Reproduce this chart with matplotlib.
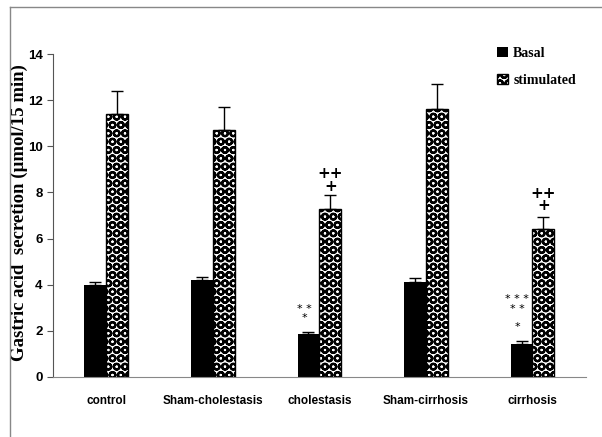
import matplotlib
matplotlib.use("Agg")
import matplotlib.pyplot as plt
import numpy as np
from matplotlib.lines import Line2D

categories = ["control", "Sham-cholestasis", "cholestasis", "Sham-cirrhosis", "cirrhosis"]
basal = [4.0, 4.2, 1.85, 4.1, 1.45]
basal_err = [0.12, 0.15, 0.08, 0.2, 0.1]
stimulated = [11.4, 10.7, 7.3, 11.6, 6.4]
stim_err = [1.0, 1.0, 0.6, 1.1, 0.55]
basal_marks = ["", "", "* *\n*", "", "* * *\n* *\n\n*"]
stim_marks = ["", "", "++\n+", "", "++\n+"]
yticks = [0, 2, 4, 6, 8, 10, 12, 14]

plt.rcParams['hatch.linewidth'] = 1.6
fig = plt.figure(figsize=(6.02, 4.37), dpi=100)
ax = fig.add_axes([0.088, 0.1373, 0.885, 0.7391])

x = np.arange(len(categories))
w = 0.205
ax.bar(x - w/2, basal, w, color="black", label="Basal", zorder=2)
ax.errorbar(x - w/2, basal, yerr=[np.zeros(5), basal_err], fmt="none", ecolor="black",
            capsize=4, elinewidth=1, capthick=1, zorder=3)
ax.bar(x + w/2, stimulated, w, facecolor="white", edgecolor="black", hatch="OO",
       linewidth=1.0, label="stimulated", zorder=2)
ax.errorbar(x + w/2, stimulated, yerr=[np.zeros(5), stim_err], fmt="none", ecolor="black",
            capsize=4, elinewidth=1, capthick=1, zorder=3)

star_bottom = {2: 2.35, 4: 1.95}
for i, m in enumerate(basal_marks):
    if m:
        ax.text(x[i] - w/2 - 0.04, star_bottom[i], m, ha="center", va="bottom", fontsize=8,
                linespacing=0.9, family="DejaVu Sans")
plus_bottom = {2: 7.95, 4: 7.1}
for i, m in enumerate(stim_marks):
    if m:
        ax.text(x[i] + w/2, plus_bottom[i], m, ha="center", va="bottom", fontsize=11,
                fontweight="bold", linespacing=0.8, family="DejaVu Sans")

ax.set_xlim(-0.5, len(categories) - 0.5)
ax.set_ylim(0, 14)
ax.set_yticks(yticks)
ax.set_yticklabels([str(t) for t in yticks], family="Liberation Sans", fontweight="bold",
                   fontsize=9.5)
ax.set_xticks(x)
ax.set_xticklabels(categories, family="Liberation Sans", fontweight="bold", fontsize=8.5)
ax.tick_params(axis="x", length=0, pad=13)
ax.tick_params(axis="y", length=4, color="#555555", width=0.8)
for s in ["top", "right"]:
    ax.spines[s].set_visible(False)
ax.spines["left"].set_color("#555555")
ax.spines["bottom"].set_color("#888888")
ax.set_ylabel("Gastric acid  secretion (\u00b5mol/15 min)", family="Liberation Serif",
              fontweight="bold", fontsize=13.5)
ax.yaxis.set_label_coords(-0.046, 0.51)

ax.legend(loc="upper right", bbox_to_anchor=(1.005, 1.06), frameon=False,
          prop={"family": "Liberation Serif", "weight": "bold", "size": 10},
          handlelength=0.75, handleheight=0.75, labelspacing=1.0, handletextpad=0.4)

fig.add_artist(Line2D([0.0166, 0.0166], [0.0, 0.984], color="#888888", lw=1))
fig.add_artist(Line2D([0.0166, 1.0], [0.984, 0.984], color="#888888", lw=1))

fig.savefig("out.png", dpi=100)
